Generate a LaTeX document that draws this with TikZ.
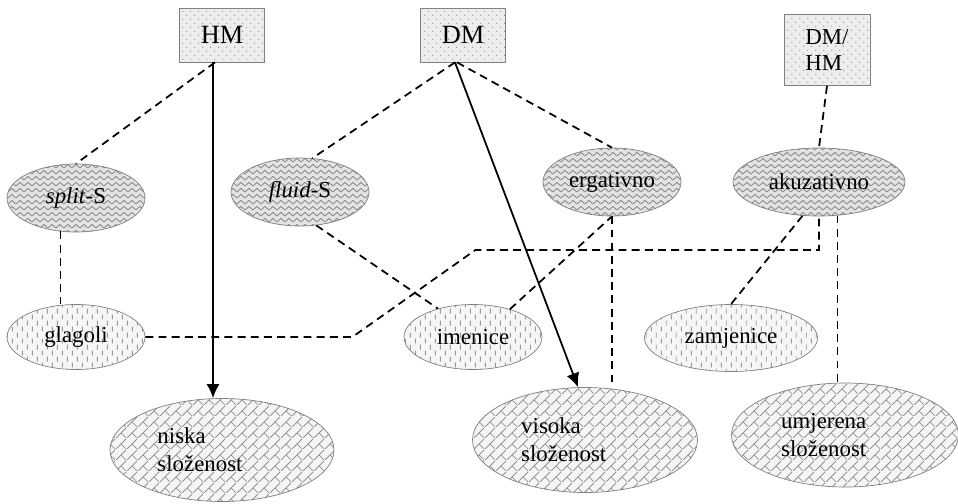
\documentclass[tikz,border=0pt]{standalone}
\usepackage{fontspec}
\setmainfont{Liberation Serif}
\usetikzlibrary{arrows.meta,shapes,positioning,patterns}

%fill patterns
\pgfdeclarepatternformonly{wavy}{\pgfpointorigin}{\pgfpoint{4.5pt}{3.4pt}}{\pgfpoint{4.5pt}{3.4pt}}{
  \pgfsetlinewidth{0.5pt}
  \pgfpathmoveto{\pgfpoint{0pt}{0.6pt}}
  \pgfpathlineto{\pgfpoint{2.25pt}{2.6pt}}
  \pgfpathlineto{\pgfpoint{4.5pt}{0.6pt}}
  \pgfusepath{stroke}}
\pgfdeclarepatternformonly{vdashes}{\pgfpointorigin}{\pgfpoint{5.6pt}{7pt}}{\pgfpoint{5.6pt}{7pt}}{
  \pgfsetlinewidth{0.55pt}
  \pgfpathmoveto{\pgfpoint{1.4pt}{0.3pt}}\pgfpathlineto{\pgfpoint{1.4pt}{3.2pt}}
  \pgfpathmoveto{\pgfpoint{4.2pt}{3.8pt}}\pgfpathlineto{\pgfpoint{4.2pt}{6.7pt}}
  \pgfusepath{stroke}}
\pgfdeclarepatternformonly{diagbricks}{\pgfpointorigin}{\pgfpoint{6pt}{6pt}}{\pgfpoint{6pt}{6pt}}{
  \pgfsetlinewidth{0.5pt}
  \pgfpathmoveto{\pgfpointorigin}\pgfpathlineto{\pgfpoint{6pt}{6pt}}
  \pgfpathmoveto{\pgfpoint{3pt}{3pt}}\pgfpathlineto{\pgfpoint{6pt}{0pt}}
  \pgfusepath{stroke}}
\pgfdeclarepatternformonly{specks}{\pgfpointorigin}{\pgfpoint{4.5pt}{4.5pt}}{\pgfpoint{4.5pt}{4.5pt}}{
  \pgfpathcircle{\pgfpoint{1pt}{1pt}}{0.4pt}
  \pgfpathcircle{\pgfpoint{3.25pt}{3.25pt}}{0.4pt}
  \pgfusepath{fill}}

\tikzset{
  box/.style={draw=gray, preaction={fill=gray!14}, pattern=specks, pattern color=gray!80,
    minimum width=1.7cm, minimum height=1.08cm, font=\fontsize{15}{17}\selectfont},
  wave/.style={ellipse, draw=gray, preaction={fill=gray!22}, pattern=wavy, pattern color=gray!90,
    minimum width=2.76cm, minimum height=1.36cm, inner sep=0pt},
  speckle/.style={ellipse, draw=gray, preaction={fill=gray!7}, pattern=vdashes, pattern color=gray!80,
    minimum width=2.76cm, minimum height=1.3cm, inner sep=0pt},
  brick/.style={ellipse, draw=gray, preaction={fill=gray!8}, pattern=diagbricks, pattern color=gray!85,
    minimum width=4.48cm, minimum height=2.06cm, inner sep=0pt, align=left},
  link/.style={line width=1pt, dash pattern=on 4.5pt off 3pt},
  flow/.style={line width=1pt, -{Latex[length=8pt,width=7.5pt]}}
}

\begin{document}
\begin{tikzpicture}[font=\fontsize{13}{16}\selectfont]
\useasboundingbox (0,0) rectangle (19.16,10.06);
%marking type boxes
\node[box] (HM) at (4.44,9.36) {HM};
\node[box] (DM) at (9.26,9.36) {DM};
\node[box, minimum width=1.72cm, minimum height=1.42cm, align=left, font=\fontsize{13}{15}\selectfont] (DMHM) at (16.54,9.06) {DM/\\HM};
%alignment types
\node[wave] (splitS) at (1.52,6.10) {\textit{split}-S};
\node[wave] (fluidS) at (6.0,6.22) {\textit{fluid}-S};
\node[wave] (erg) at (12.24,6.42) {ergativno};
\node[wave, minimum width=3.44cm] (akuz) at (16.38,6.42) {akuzativno};
%word classes
\node[speckle] (glagoli) at (1.52,3.32) {glagoli};
\node[speckle] (imenice) at (9.46,3.32) {imenice};
\node[speckle, minimum width=3.46cm, minimum height=1.34cm] (zamjenice) at (14.62,3.30) {zamjenice};
%complexity
\node[brick] (niska) at (4.44,1.06) {niska\\složenost\hspace*{.88cm}};
\node[brick, minimum width=4.5cm, minimum height=2.1cm] (visoka) at (11.70,1.26) {visoka\\složenost\hspace*{.85cm}};
\node[brick, minimum width=4.54cm, minimum height=2.08cm] (umjerena) at (16.90,1.36) {umjerena\\složenost\hspace*{.85cm}};
%links from HM
\draw[link] ([xshift=-.14cm]HM.south) -- (splitS.north);
\draw[flow] ([xshift=-.18cm]HM.south) -- ([xshift=-.18cm]niska.north);
%links from DM
\draw[link] ([xshift=-.16cm]DM.south) -- (fluidS.70);
\draw[link] ([xshift=-.12cm]DM.south) -- (erg.north);
\draw[flow] ([xshift=-.16cm]DM.south) -- ([xshift=-.14cm]visoka.north);
\draw[link] (DMHM.south) -- (akuz.north);
%lower links
\draw[link] (splitS.245) -- (splitS.245 |- glagoli.north);
\draw[link] (fluidS.296) -- (imenice.141);
\draw[link] (glagoli.east) -- ++(4.14,0) -- ++(2.46,1.74) -| (akuz.south);
\draw[link] (imenice.37) -- (erg.south);
\draw[link] (erg.south) -- (erg.south |- visoka.north);
\draw[link] (akuz.299) -- (akuz.299 |- umjerena.north);
\draw[link] (akuz.244) -- (zamjenice.north);
\end{tikzpicture}
\end{document}
